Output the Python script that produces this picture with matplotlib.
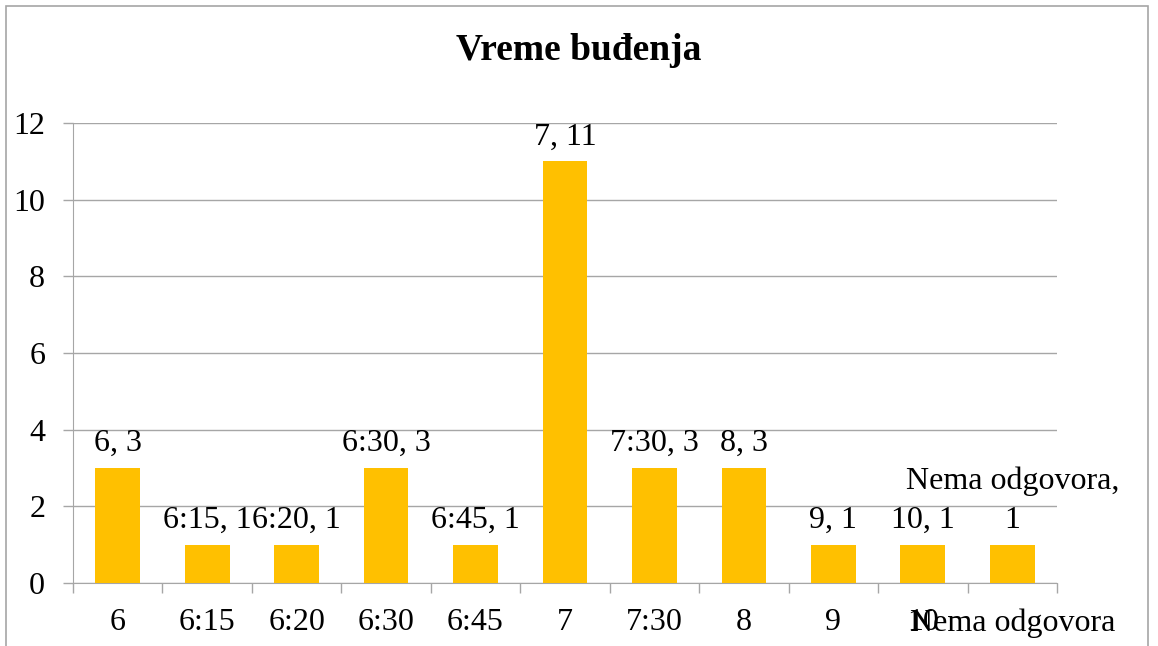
import matplotlib.pyplot as plt
from matplotlib.patches import Rectangle
import numpy as np

plt.rcParams['font.family'] = ['Liberation Serif', 'DejaVu Serif']

categories = ['6', '6:15', '6:20', '6:30', '6:45', '7', '7:30', '8', '9', '10', 'Nema odgovora']
values = [3, 1, 1, 3, 1, 11, 3, 3, 1, 1, 1]
yticks = [0, 2, 4, 6, 8, 10, 12]

gray = '#A6A6A6'
fig = plt.figure(figsize=(11.58, 6.46), dpi=100)
ax = fig.add_axes([73 / 1158, 63 / 646, 984 / 1158, 460 / 646])

x = np.arange(len(categories))
ax.bar(x, values, width=0.5, color='#FFC000', zorder=3)

for xi, cat, v in zip(x, categories, values):
    lab = cat + ', ' + str(v)
    if len(cat) > 6:
        lab = cat + ',\n' + str(v)
    ax.annotate(lab, (xi, v), xytext=(0, 7), textcoords='offset points',
                ha='center', va='bottom', multialignment='center', fontsize=23,
                linespacing=1.45)

ax.set_xlim(-0.5, len(categories) - 0.5)
ax.set_ylim(0, 12)
ax.set_yticks(yticks)
ax.yaxis.grid(True, color=gray, linewidth=1, zorder=0)
ax.set_xticks(x)
ax.set_xticklabels(categories)
ax.set_xticks(np.arange(-0.5, len(categories)), minor=True)
ax.tick_params(axis='x', which='major', length=0, pad=18, labelsize=23)
ax.tick_params(axis='x', which='minor', length=7, color=gray, width=1)
ax.tick_params(axis='y', length=7, color=gray, width=1, pad=13, labelsize=23)

for s in ['top', 'right']:
    ax.spines[s].set_visible(False)
for s in ['left', 'bottom']:
    ax.spines[s].set_color(gray)

fig.text(0.5, 1 - 51 / 646, 'Vreme buđenja', ha='center', va='center',
         fontsize=27, fontweight='bold')

fig.patches.append(Rectangle((6 / 1158, -0.1), 1142 / 1158, 1.1 - 6 / 646,
                             transform=fig.transFigure, fill=False,
                             edgecolor=gray, linewidth=1.2))

fig.savefig('out.png', dpi=100)
